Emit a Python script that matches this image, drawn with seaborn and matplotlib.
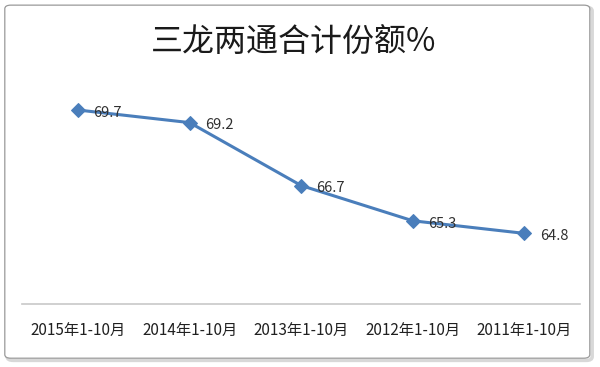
import pandas as pd
import seaborn as sns
import matplotlib.pyplot as plt
from matplotlib.patches import FancyBboxPatch

periods = ["2015年1-10月", "2014年1-10月", "2013年1-10月", "2012年1-10月", "2011年1-10月"]
share = [69.7, 69.2, 66.7, 65.3, 64.8]

df = pd.DataFrame({"period": periods, "share": share})

sns.set_style("white")
plt.rcParams["font.family"] = ["Noto Sans CJK SC", "DejaVu Sans"]

fig = plt.figure(figsize=(6, 3.67), dpi=100)
ax = fig.add_axes([0.037, 0.172, 0.93, 0.686])
ax.set_zorder(5)

# chart frame with a light shadow
fig.patches.append(FancyBboxPatch((0.012, 0.018), 0.975, 0.962, boxstyle="round,pad=0,rounding_size=0.01",
                                  transform=fig.transFigure, facecolor="none", edgecolor="#d8d8d8",
                                  linewidth=2.5, zorder=-10))
fig.patches.append(FancyBboxPatch((0.008, 0.024), 0.975, 0.962, boxstyle="round,pad=0,rounding_size=0.01",
                                  transform=fig.transFigure, facecolor="white", edgecolor="#9a9a9a",
                                  linewidth=0.9, zorder=-9))

sns.lineplot(data=df, x="period", y="share", sort=False, ax=ax,
             color="#4a7ebb", linewidth=2.2, marker="D", markersize=7,
             markeredgecolor="#4a7ebb")

for i, v in enumerate(share):
    ax.annotate(f"{v}", (i, v), xytext=(11, -2), textcoords="offset points",
                ha="left", va="center", fontsize=10.5, color="#303030")

ax.set_ylim(62, 72)
ax.set_xlim(-0.5, len(periods) - 0.5)
ax.set_xlabel("")
ax.set_ylabel("")
ax.set_yticks([])
ax.tick_params(axis="x", length=0, labelsize=11, colors="#202020", pad=13)
for s in ["top", "right", "left"]:
    ax.spines[s].set_visible(False)
ax.spines["bottom"].set_color("#c8c8c8")
ax.spines["bottom"].set_linewidth(1.2)
ax.patch.set_alpha(0)

fig.text(0.49, 0.885, "三龙两通合计份额%", ha="center", va="center", fontsize=23,
         color="#1a1a1a", fontweight="light", zorder=6)

fig.savefig("out.png", dpi=100)
